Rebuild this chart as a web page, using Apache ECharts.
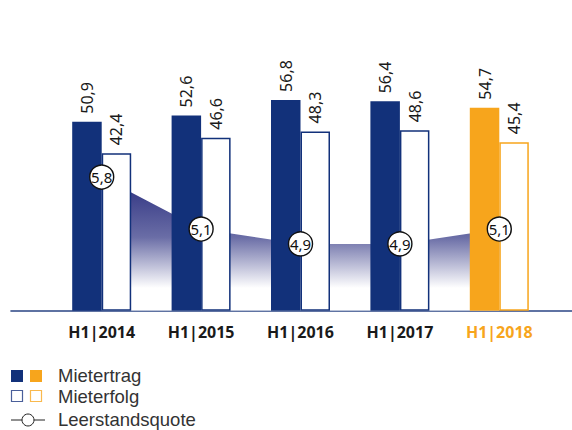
<!DOCTYPE html>
<html>
<head>
<meta charset="utf-8">
<script src="https://cdn.jsdelivr.net/npm/echarts@6/dist/echarts.min.js"></script>
<style>
html,body{margin:0;padding:0;background:#fff;}
#c{width:572px;height:430px;}
</style>
</head>
<body>
<div id="c"></div>
<script>
var categories = ['H1|2014', 'H1|2015', 'H1|2016', 'H1|2017', 'H1|2018'];
var mietertrag = [50.9, 52.6, 56.8, 56.4, 54.7];
var mieterfolg = [42.4, 46.6, 48.3, 48.6, 45.4];
var leerstandsquote = [5.8, 5.1, 4.9, 4.9, 5.1];
var legendNames = ['Mietertrag', 'Mieterfolg', 'Leerstandsquote'];

var BLUE = '#12317a';
var ORANGE = '#f7a51c';
var FONT = 'Noto Sans';
var LEGEND_FONT = 'Liberation Sans';
var hi = categories.length - 1;

function fmt(v) { return v.toFixed(1).replace('.', ','); }

var chart = echarts.init(document.getElementById('c'), null, {renderer: 'svg'});

var barLabel = {
  show: true, position: 'top', distance: 8, rotate: 90,
  align: 'left', verticalAlign: 'middle',
  fontFamily: FONT, fontSize: 16, color: '#1a1a1a',
  formatter: function (p) { return fmt(p.value); }
};

function legendText(name, y) {
  return {type: 'text', x: 58, y: y, style: {
    text: name, fontFamily: LEGEND_FONT, fontSize: 18.5, lineHeight: 18.5,
    fill: '#333', verticalAlign: 'middle'
  }};
}

chart.setOption({
  backgroundColor: '#ffffff',
  animation: false,
  grid: [
    {left: 52, right: 23, top: 88, bottom: 119.3},
    {left: 11, right: 0, top: 88, bottom: 119.3}
  ],
  xAxis: [
    {
      type: 'category', data: categories, gridIndex: 0,
      axisLine: {show: false}, axisTick: {show: false},
      axisLabel: {
        margin: 13, fontFamily: FONT, fontSize: 16, fontWeight: 'bold',
        color: function (v, i) { return i === hi ? ORANGE : '#1a1a1a'; }
      }
    },
    {
      type: 'category', data: categories, gridIndex: 1,
      axisLine: {show: true, onZero: false, lineStyle: {color: '#2a4484', width: 1.6}},
      axisTick: {show: false}, axisLabel: {show: false}
    }
  ],
  yAxis: [
    {type: 'value', min: 0, max: 60, show: false, gridIndex: 0},
    {type: 'value', min: 4, max: 7, show: false, gridIndex: 0},
    {type: 'value', min: 0, max: 60, show: false, gridIndex: 1}
  ],
  series: [
    {
      name: legendNames[2] + ' area', type: 'line', xAxisIndex: 0, yAxisIndex: 1,
      data: leerstandsquote, symbol: 'none', z: 1,
      lineStyle: {width: 0},
      areaStyle: {
        origin: 'start', opacity: 1,
        color: new echarts.graphic.LinearGradient(0, 0, 0, 1, [
          {offset: 0, color: '#2a2e7e'},
          {offset: 0.45, color: '#6a6da6'},
          {offset: 0.83, color: '#ffffff'},
          {offset: 1, color: '#ffffff'}
        ])
      },
      silent: true
    },
    {
      name: legendNames[0], type: 'bar', xAxisIndex: 0, yAxisIndex: 0,
      barWidth: 29.5, barGap: '0%', z: 2,
      data: mietertrag.map(function (v, i) {
        return {value: v, itemStyle: {color: i === hi ? ORANGE : BLUE}};
      }),
      label: barLabel
    },
    {
      name: legendNames[1], type: 'bar', xAxisIndex: 0, yAxisIndex: 0,
      barWidth: 29.5, barGap: '0%', z: 2,
      data: mieterfolg.map(function (v, i) {
        return {value: v, itemStyle: {color: '#ffffff', borderColor: i === hi ? ORANGE : BLUE, borderWidth: 1.5}};
      }),
      label: barLabel
    },
    {
      name: legendNames[2], type: 'line', xAxisIndex: 0, yAxisIndex: 1,
      data: leerstandsquote, z: 3,
      symbol: 'circle', symbolSize: 24,
      lineStyle: {width: 0, opacity: 0},
      itemStyle: {color: '#ffffff', borderColor: '#111111', borderWidth: 1.4},
      label: {
        show: true, position: 'inside', fontFamily: FONT, fontSize: 15, color: '#111',
        formatter: function (p) { return fmt(p.value); }
      }
    }
  ],
  graphic: [
    {type: 'rect', left: 11, top: 370, shape: {width: 12, height: 12}, style: {fill: BLUE}},
    {type: 'rect', left: 30, top: 370, shape: {width: 12, height: 12}, style: {fill: ORANGE}},
    {type: 'rect', shape: {x: 11.5, y: 390.5, width: 11, height: 11}, style: {fill: '#fff', stroke: '#4a5f9a', lineWidth: 1.2}},
    {type: 'rect', shape: {x: 30.5, y: 390.5, width: 11, height: 11}, style: {fill: '#fff', stroke: '#f9b94e', lineWidth: 1.2}},
    {type: 'line', shape: {x1: 11, y1: 420, x2: 45, y2: 420}, style: {stroke: '#222', lineWidth: 1}},
    {type: 'circle', shape: {cx: 28, cy: 420, r: 6}, style: {fill: '#fff', stroke: '#222', lineWidth: 1}},
    legendText(legendNames[0], 375.5),
    legendText(legendNames[1], 396.5),
    legendText(legendNames[2], 419)
  ]
});
</script>
</body>
</html>
